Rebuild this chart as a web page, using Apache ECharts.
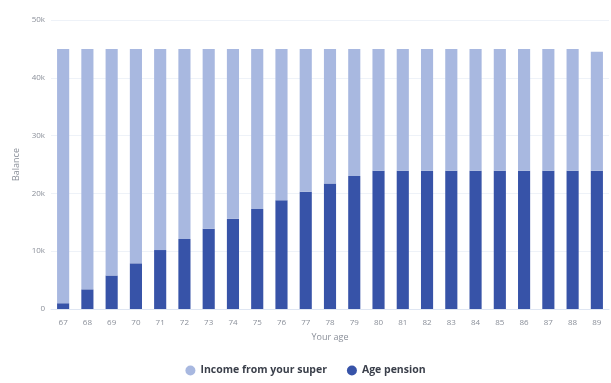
<!DOCTYPE html>
<html>
<head>
<meta charset="utf-8">
<script src="https://cdn.jsdelivr.net/npm/echarts@6/dist/echarts.min.js"></script>
<style>
html,body{margin:0;padding:0;background:#fff;}
#main{width:611px;height:383px;}
</style>
</head>
<body>
<div id="main"></div>
<script>
var ages = ['67','68','69','70','71','72','73','74','75','76','77','78','79','80','81','82','83','84','85','86','87','88','89'];
// age pension per year (k)
var pension = [1.0,3.4,5.8,7.9,10.2,12.1,13.9,15.6,17.3,18.8,20.3,21.7,23.0,23.9,23.9,23.9,23.9,23.9,23.9,23.9,23.9,23.9,23.9];
// total income per year (k)
var total = [45,45,45,45,45,45,45,45,45,45,45,45,45,45,45,45,45,45,45,45,45,45,44.5];
var superIncome = [];
for (var i = 0; i < ages.length; i++) {
    superIncome.push(+(total[i] - pension[i]).toFixed(1));
}

var myChart = echarts.init(document.getElementById('main'));
var option = {
    animation: false,
    textStyle: {fontFamily: 'Open Sans'},
    grid: {left: 51, right: 2, top: 20, bottom: 74},
    legend: {
        bottom: 2,
        left: 'center',
        icon: 'circle',
        itemWidth: 10,
        itemHeight: 10,
        itemGap: 20,
        textStyle: {color: '#3a3f4a', fontSize: 10.5, fontWeight: 'bold'},
        data: ['Income from your super', 'Age pension']
    },
    xAxis: {
        type: 'category',
        data: ages,
        name: 'Your age',
        nameLocation: 'middle',
        nameGap: 24,
        nameTextStyle: {color: '#8a8f99', fontSize: 9},
        axisLine: {lineStyle: {color: '#dfe6f2'}},
        axisTick: {show: false},
        axisLabel: {color: '#8a8f99', fontSize: 8, margin: 10}
    },
    yAxis: {
        type: 'value',
        min: 0,
        max: 50,
        interval: 10,
        name: 'Balance',
        nameLocation: 'middle',
        nameGap: 26,
        nameTextStyle: {color: '#8a8f99', fontSize: 9},
        axisLabel: {
            color: '#8a8f99', fontSize: 8, margin: 6,
            formatter: function (v) { return v === 0 ? '0' : v + 'k'; }
        },
        splitLine: {lineStyle: {color: '#eef2f8'}}
    },
    series: [
        {
            name: 'Age pension',
            type: 'bar',
            stack: 'income',
            barWidth: '50%',
            itemStyle: {color: '#3753a8'},
            data: pension
        },
        {
            name: 'Income from your super',
            type: 'bar',
            stack: 'income',
            barWidth: '50%',
            itemStyle: {color: '#a8b8e0'},
            data: superIncome
        }
    ]
};
myChart.setOption(option);
</script>
</body>
</html>
